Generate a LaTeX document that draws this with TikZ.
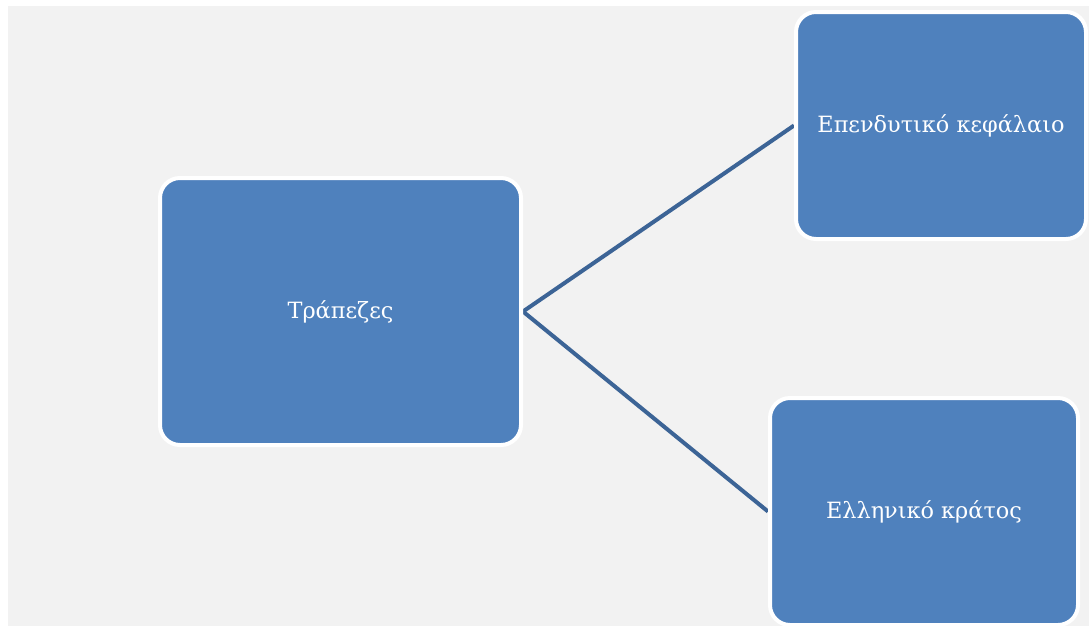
\documentclass[tikz,border=0pt]{standalone}
\usepackage{fontspec}
\setmainfont{DejaVu Serif}
\usetikzlibrary{backgrounds}

\definecolor{boxblue}{HTML}{4F81BD}
\definecolor{linkblue}{HTML}{3C6496}
\definecolor{paper}{HTML}{F2F2F2}

\begin{document}
\begin{tikzpicture}[
  x=0.75pt, y=-0.75pt,
  block/.style={rectangle, rounded corners=15pt, draw=white, line width=3pt,
    fill=boxblue, text=white, font=\fontsize{16.8}{20}\selectfont},
  link/.style={draw=linkblue, line width=3pt}
  ]
  \useasboundingbox (0,0) rectangle (1089,626);

  \node[block, minimum width=270.75pt, minimum height=200.25pt] (banks) at (340.5,311.5) {Τράπεζες};
  \node[block, minimum width=217.5pt, minimum height=170.25pt] (capital) at (941,125.5) {Επενδυτικό κεφάλαιο};
  \node[block, minimum width=231pt, minimum height=170.25pt] (state) at (924,511.5) {Ελληνικό κράτος};

  \begin{pgfonlayer}{background}
    \fill[paper] (8,6) rectangle (1089,626);
    \draw[link] (banks.east) -- (capital.west);
    \draw[link] (banks.east) -- (state.west);
  \end{pgfonlayer}
\end{tikzpicture}
\end{document}
